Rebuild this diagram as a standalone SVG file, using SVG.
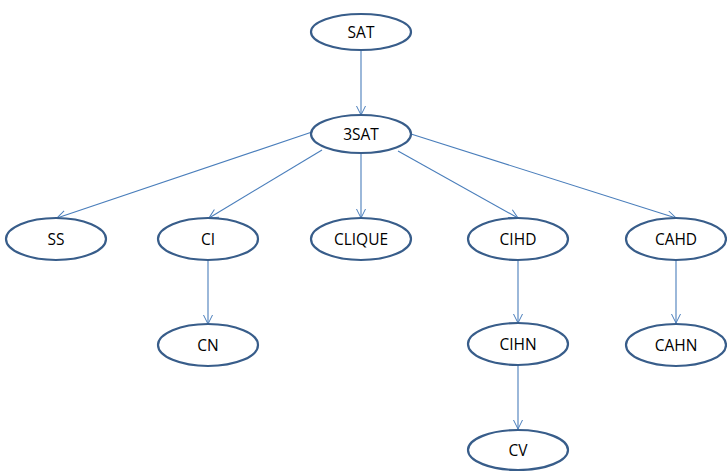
<svg xmlns="http://www.w3.org/2000/svg" width="727" height="471" viewBox="0 0 727 471">
<defs>
<marker id="arr" markerWidth="12" markerHeight="12" refX="10" refY="5" orient="auto" markerUnits="userSpaceOnUse">
<path d="M1,0.5 L10,5 L1,9.5" fill="none" stroke="#4a7ebb" stroke-width="1"/>
</marker>
<style>
.n ellipse{fill:#fff;stroke:#385d8a;stroke-width:2.2}
.n text{font-family:"Open Sans","Liberation Sans",sans-serif;font-size:15.5px;fill:#000;text-anchor:middle;dominant-baseline:central}
#edges line{stroke:#4a7ebb;stroke-width:1.1;marker-end:url(#arr)}
</style>
</defs>
<rect width="727" height="471" fill="#fff"/>
<g id="edges">
<line x1="361" y1="50" x2="361" y2="115"/>
<line x1="312" y1="132" x2="57" y2="218"/>
<line x1="322" y1="150" x2="209" y2="218"/>
<line x1="361" y1="153" x2="361" y2="218"/>
<line x1="398" y1="151" x2="518" y2="218"/>
<line x1="411" y1="134" x2="676" y2="218"/>
<line x1="208" y1="260" x2="208" y2="324"/>
<line x1="518" y1="260" x2="518" y2="323"/>
<line x1="518" y1="365" x2="518" y2="429"/>
<line x1="676" y1="260" x2="676" y2="323"/>
</g>
<g id="SAT" class="n"><ellipse cx="361" cy="32" rx="50" ry="18"/><text x="361" y="32">SAT</text></g>
<g id="3SAT" class="n"><ellipse cx="361" cy="134" rx="50" ry="19"/><text x="361" y="134">3SAT</text></g>
<g id="SS" class="n"><ellipse cx="56" cy="239" rx="50" ry="21"/><text x="56" y="239">SS</text></g>
<g id="CI" class="n"><ellipse cx="208" cy="239" rx="50" ry="21"/><text x="208" y="239">CI</text></g>
<g id="CLIQUE" class="n"><ellipse cx="361" cy="239" rx="50" ry="21"/><text x="361" y="239">CLIQUE</text></g>
<g id="CIHD" class="n"><ellipse cx="518" cy="239" rx="50" ry="21"/><text x="518" y="239">CIHD</text></g>
<g id="CAHD" class="n"><ellipse cx="676" cy="239" rx="50" ry="21"/><text x="676" y="239">CAHD</text></g>
<g id="CN" class="n"><ellipse cx="208" cy="345" rx="50" ry="21"/><text x="208" y="345">CN</text></g>
<g id="CIHN" class="n"><ellipse cx="518" cy="344" rx="50" ry="21"/><text x="518" y="344">CIHN</text></g>
<g id="CAHN" class="n"><ellipse cx="676" cy="345" rx="50" ry="21"/><text x="676" y="345">CAHN</text></g>
<g id="CV" class="n"><ellipse cx="518" cy="450" rx="50" ry="20"/><text x="518" y="450">CV</text></g>
</svg>
